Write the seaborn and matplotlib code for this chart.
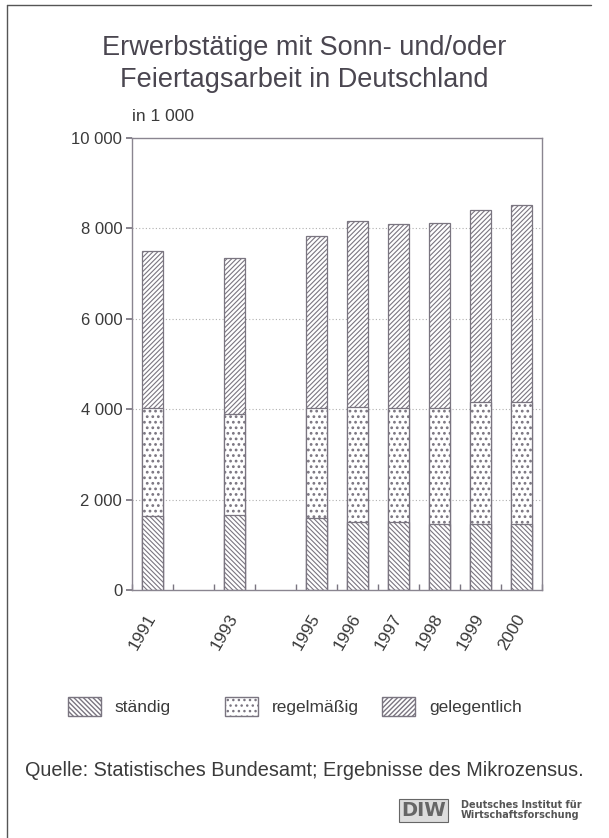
import numpy as np
import pandas as pd
import seaborn as sns
import matplotlib.pyplot as plt
from matplotlib.patches import Patch
from matplotlib.lines import Line2D

years = ["1991", "1992", "1993", "1994", "1995", "1996", "1997", "1998", "1999", "2000"]
data_years = ["1991", "1993", "1995", "1996", "1997", "1998", "1999", "2000"]
staendig = [1640, 1650, 1600, 1510, 1510, 1460, 1460, 1460]
regelmaessig = [2380, 2240, 2420, 2550, 2510, 2560, 2690, 2690]
gelegentlich = [3490, 3450, 3810, 4110, 4070, 4110, 4250, 4370]
series_names = ["ständig", "regelmäßig", "gelegentlich"]
y_ticks = [0, 2000, 4000, 6000, 8000, 10000]
y_labels = ["0", "2 000", "4 000", "6 000", "8 000", "10 000"]

sns.set_theme(style="ticks", rc={"axes.grid": False})
plt.rcParams["font.family"] = ["Liberation Sans", "DejaVu Sans"]
plt.rcParams["hatch.color"] = "#5f5a66"

df = pd.DataFrame({"Jahr": data_years, "s": staendig, "r": regelmaessig, "g": gelegentlich})
df["stufe1"] = df["s"]
df["stufe2"] = df["s"] + df["r"]
df["stufe3"] = df["s"] + df["r"] + df["g"]

edge = "#7a7580"
text_col = "#3a3a3a"

fig = plt.figure(figsize=(6.09, 8.38), dpi=100)
ax = fig.add_axes([0.2167, 0.2959, 0.6733, 0.5394])

hatches = {"stufe3": "///////", "stufe2": "...", "stufe1": "\\\\\\\\\\\\\\"}
hatch_lw = {"stufe3": 0.8, "stufe2": 1.2, "stufe1": 0.8}
for col in ["stufe3", "stufe2", "stufe1"]:
    with plt.rc_context({"hatch.linewidth": hatch_lw[col]}):
        sns.barplot(data=df, x="Jahr", y=col, order=years, color="white", width=0.5,
                    edgecolor=edge, linewidth=0.9, hatch=hatches[col], ax=ax, saturation=1)

ax.set_ylim(0, 10000)
ax.set_xlim(-0.5, 9.5)
ax.set_yticks(y_ticks)
ax.set_yticklabels(y_labels, fontsize=12, color=text_col)
ax.set_xticks(range(len(years)))
ax.set_xticklabels([y if y in data_years else "" for y in years], rotation=60,
                   ha="right", va="center", rotation_mode="anchor", fontsize=12.5, color=text_col)
ax.set_xticks(np.arange(-0.5, 10, 1), minor=True)
ax.tick_params(axis="x", which="major", length=0, pad=18)
ax.tick_params(axis="x", which="minor", length=4, direction="in", color=edge)
ax.tick_params(axis="y", length=4, color=edge, pad=3)
ax.set_xlabel("")
ax.set_ylabel("")
for sp in ax.spines.values():
    sp.set_color("#8a8590")
    sp.set_linewidth(1)
for yv in y_ticks[1:-1]:
    ax.axhline(yv, color="#b0b0b0", linestyle=(0, (1, 2)), linewidth=0.8, zorder=0)

ax.text(0.0, 1.03, "in 1 000", transform=ax.transAxes, fontsize=12.5, color=text_col,
        ha="left", va="bottom")

fig.text(0.5, 0.924, "Erwerbstätige mit Sonn- und/oder\nFeiertagsarbeit in Deutschland",
         ha="center", va="center", fontsize=19.5, color="#4a4650", linespacing=1.3)

# legend entries placed one by one, as in the original layout
legend_x = [0.111, 0.369, 0.628]
for name, key, lx in zip(series_names, ["stufe1", "stufe2", "stufe3"], legend_x):
    with plt.rc_context({"hatch.linewidth": hatch_lw[key]}):
        h = Patch(facecolor="white", edgecolor=edge, hatch=hatches[key])
    fig.legend([h], [name], loc="center left", bbox_to_anchor=(lx, 0.157),
               frameon=False, fontsize=12.5, handlelength=1.9, handleheight=1.3,
               handletextpad=0.8, labelcolor=text_col, borderpad=0, borderaxespad=0)

fig.text(0.5, 0.081, "Quelle: Statistisches Bundesamt; Ergebnisse des Mikrozensus.",
         ha="center", va="center", fontsize=14.3, color=text_col)

fig.text(0.695, 0.033, "DIW", ha="center", va="center", fontsize=14, fontweight="bold",
         color="#666", family="DejaVu Sans",
         bbox=dict(boxstyle="square,pad=0.1", facecolor="#ddd", edgecolor="#666", linewidth=0.8))
fig.text(0.757, 0.033, "Deutsches Institut für\nWirtschaftsforschung", ha="left", va="center",
         fontsize=7, fontweight="bold", color="#555", family="DejaVu Sans", linespacing=1.0)

fig.add_artist(Line2D([0.011, 0.97], [0.994, 0.994], color="#555", linewidth=1))
fig.add_artist(Line2D([0.011, 0.011], [0.0, 0.994], color="#555", linewidth=1))

fig.savefig("out.png", dpi=100)
